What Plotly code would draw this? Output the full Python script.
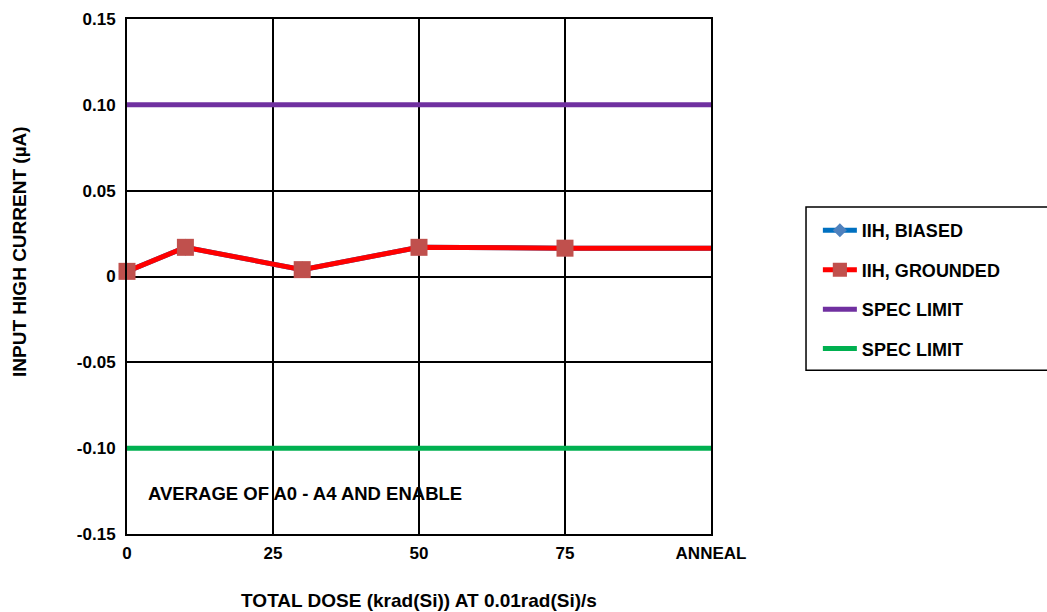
import plotly.graph_objects as go

# total dose points (krad(Si)); 100 stands for the anneal step
dose = [0, 10, 30, 50, 75, 100]
iih_biased = [0.003, 0.017, 0.004, 0.017, 0.0165, 0.0165]
iih_grounded = [0.003, 0.017, 0.004, 0.017, 0.0165, 0.0165]
spec_x = [0, 100]
spec_hi = [0.10, 0.10]
spec_lo = [-0.10, -0.10]

x_tickvals = [0, 25, 50, 75, 100]
x_ticktext = ["0", "25", "50", "75", "ANNEAL"]
y_tickvals = [-0.15, -0.10, -0.05, 0, 0.05, 0.10, 0.15]
y_ticktext = ["-0.15", "-0.10", "-0.05", "0", "0.05", "0.10", "0.15"]

FONT = "Liberation Sans, Arial, sans-serif"


def b(s):
    return "<b>" + s + "</b>"


fig = go.Figure()

fig.add_trace(go.Scatter(
    x=dose, y=iih_biased, mode="lines+markers", name=b("IIH, BIASED"),
    line=dict(color="#0070C0", width=5),
    marker=dict(symbol="diamond", size=[13, 13, 13, 13, 13, 0], color="#4F81BD",
                opacity=1, line=dict(width=0)),
    legendgroup="a", cliponaxis=False,
))
fig.add_trace(go.Scatter(
    x=dose, y=iih_grounded, mode="lines+markers", name=b("IIH, GROUNDED"),
    line=dict(color="#FF0000", width=5),
    marker=dict(symbol="square", size=[17, 17, 17, 17, 17, 0], color="#C0504D",
                opacity=1, line=dict(width=0)),
    legendgroup="b", cliponaxis=False,
))
fig.add_trace(go.Scatter(
    x=spec_x, y=spec_hi, mode="lines", name=b("SPEC LIMIT"),
    line=dict(color="#7030A0", width=5), legendgroup="c",
))
fig.add_trace(go.Scatter(
    x=spec_x, y=spec_lo, mode="lines", name=b("SPEC LIMIT"),
    line=dict(color="#00B050", width=5), legendgroup="d",
))

fig.add_annotation(
    x=0.033, y=-0.1265, xref="paper", yref="y", text=b("AVERAGE OF A0 - A4 AND ENABLE"),
    showarrow=False, xanchor="left", font=dict(size=18.5, color="black", family=FONT),
)
# y axis title sits a little above the plot's centre
fig.add_annotation(
    x=-0.183, y=0.548, xref="paper", yref="paper", text=b("INPUT HIGH CURRENT (µA)"),
    showarrow=False, textangle=-90, xanchor="center", yanchor="middle",
    font=dict(size=19, color="black", family=FONT),
)

# legend frame runs off the right edge
fig.add_shape(
    type="rect", xref="paper", yref="paper", x0=1.1627, x1=2.0, y0=0.318, y1=0.635,
    line=dict(color="black", width=1.5), fillcolor="white", layer="below",
)

fig.update_layout(
    width=1047, height=612,
    margin=dict(l=127, r=336, t=19, b=78),
    paper_bgcolor="white", plot_bgcolor="white",
    font=dict(family=FONT, size=17, color="black"),
    showlegend=True,
    legend=dict(
        x=1.183, y=0.625, xanchor="left", yanchor="top",
        borderwidth=0, bgcolor="rgba(0,0,0,0)",
        font=dict(size=18), tracegroupgap=13, itemwidth=34,
        traceorder="grouped",
    ),
    xaxis=dict(
        range=[0, 100], tickvals=x_tickvals, ticktext=[b(t) for t in x_ticktext],
        showgrid=True, gridcolor="black", gridwidth=2,
        showline=True, linecolor="black", linewidth=2, mirror=True,
        zeroline=False, ticks="", ticklabelstandoff=3, automargin=False,
        title=dict(text=b("TOTAL DOSE (krad(Si)) AT 0.01rad(Si)/s"), standoff=31,
                   font=dict(size=19)),
    ),
    yaxis=dict(
        range=[-0.15, 0.15], tickvals=y_tickvals, ticktext=[b(t) for t in y_ticktext],
        showgrid=True, gridcolor="black", gridwidth=2,
        showline=True, linecolor="black", linewidth=2, mirror=True,
        zeroline=False, ticks="", ticklabelstandoff=6, automargin=False,
    ),
)

# drop the browser's default body margin so the figure sits at the page corner
fig.write_html("out.html", config={"displayModeBar": False},
               post_script="document.body.style.margin='0';")
